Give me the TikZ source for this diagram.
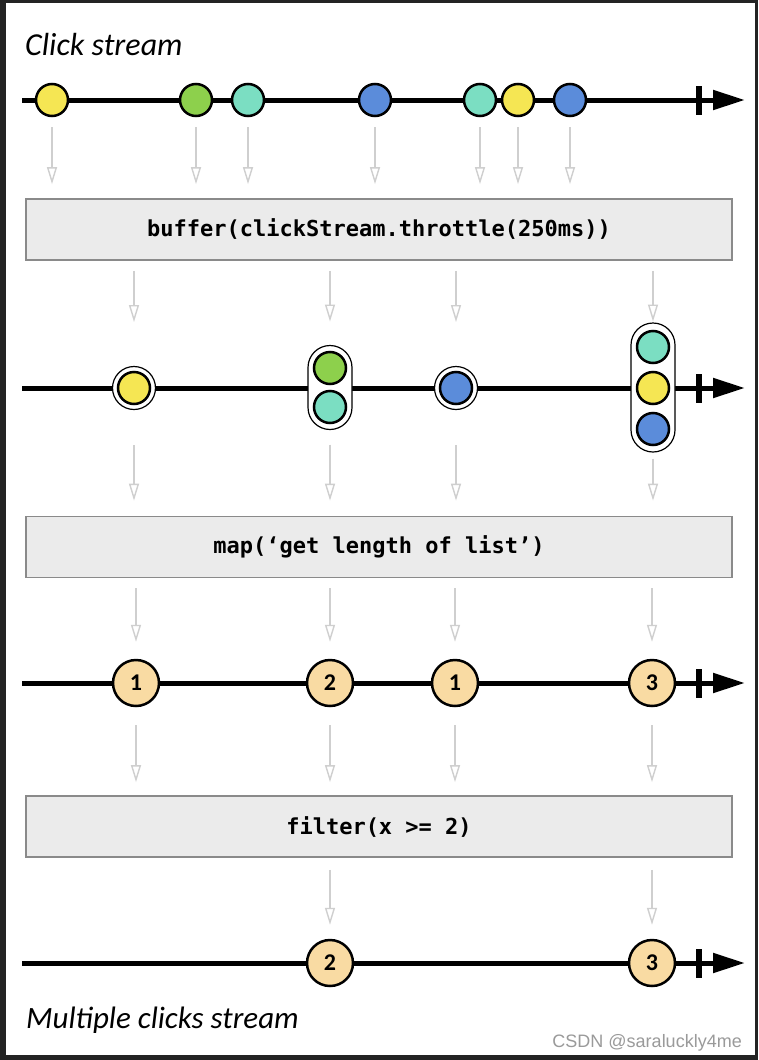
\documentclass[tikz,border=0pt]{standalone}
\usepackage{fontspec}
\setmonofont{DejaVu Sans Mono}
\newfontfamily\labelfont{Carlito}
\newfontfamily\markfont{Liberation Sans}
\usetikzlibrary{arrows.meta, positioning}

\definecolor{framedark}{HTML}{232323}
\definecolor{myyellow}{HTML}{F5E653}
\definecolor{mygreen}{HTML}{8DD04C}
\definecolor{myteal}{HTML}{7BDEC2}
\definecolor{myblue}{HTML}{5B8CDA}
\definecolor{countfill}{HTML}{F9DBA3}
\definecolor{boxfill}{HTML}{EBEBEB}
\definecolor{boxline}{HTML}{8A8A8A}
\definecolor{flowgray}{HTML}{CFCFCF}
\definecolor{markgray}{HTML}{9A9A9A}

\begin{document}
\begin{tikzpicture}[x=1pt, y=-1pt]
    % Setup the styles
        \tikzset{timeline/.style={line width=5pt,
                                  -{Triangle[length=32pt, width=19pt]}},
                 tickmark/.style={rectangle, fill=black, inner sep=0pt,
                                  minimum width=6pt, minimum height=29pt},
                 marble/.style={circle, draw=black, line width=2.5pt,
                                inner sep=0pt, minimum size=32pt},
                 ring/.style={circle, draw=black, line width=1.2pt,
                              fill=white, inner sep=0pt, minimum size=43pt},
                 pill/.style={rectangle, draw=black, line width=1.2pt,
                              fill=white, rounded corners=22pt,
                              minimum width=44pt},
                 count/.style={circle, draw=black, line width=2.5pt,
                               fill=countfill, inner sep=0pt,
                               minimum size=46pt,
                               font=\labelfont\bfseries\fontsize{24pt}{28pt}\selectfont},
                 opbox/.style={rectangle, draw=boxline, fill=boxfill,
                               line width=1.8pt, minimum width=706pt,
                               minimum height=61pt,
                               font=\ttfamily\bfseries\fontsize{22pt}{26pt}\selectfont},
                 flow/.style={draw=flowgray, line width=1.4pt,
                              -{Triangle[open, length=17pt, width=10pt]}},
                 title/.style={anchor=base west, inner sep=0pt,
                               font=\labelfont\itshape\fontsize{32pt}{36pt}\selectfont}}
        % Frame and page
        \fill[framedark] (0,0) rectangle (758,1060);
        \fill[white] (6,3) rectangle (755,1055);
        % Titles
        \node[title] (clicktitle) at (25,55) {Click stream};
        \node[title, font=\labelfont\itshape\fontsize{31pt}{36pt}\selectfont]
            (multititle) at (26,1028) {Multiple clicks stream};
        \node[anchor=base east, inner sep=0pt, text=markgray,
              font=\markfont\fontsize{18pt}{20pt}\selectfont]
            (mark) at (742,1047) {CSDN @saraluckly4me};
        % Draw the timelines
        \foreach \y [count=\i] in {100, 388, 683, 963} {
            \coordinate (s\i) at (22,\y);
            \coordinate (e\i) at (745,\y);
            \draw[timeline] (s\i) -- (e\i);
            \node[tickmark] (t\i) at (699,\y) {};
        }
        % Click stream
        \foreach \x/\c [count=\i] in {52/myyellow, 196/mygreen, 248/myteal,
                                      375/myblue, 480/myteal, 518/myyellow,
                                      570/myblue}
            \node[marble, fill=\c] (m\i) at (\x,100) {};
        % Operators
        \node[opbox] (buf) at (379,229.5) {buffer(clickStream.throttle(250ms))};
        \node[opbox] (map) at (379,547) {map(‘get length of list’)};
        \node[opbox] (filt) at (379,826.5) {filter(x >= 2)};
        % Buffered stream
        \node[ring] (r1) at (134,388) {};
        \node[marble, fill=myyellow] (r1m) at (r1) {};
        \node[pill, minimum height=84pt] (p1) at (330,387.5) {};
        \node[marble, fill=mygreen] (p1a) at (330,368) {};
        \node[marble, fill=myteal] (p1b) at (330,407) {};
        \node[ring] (r2) at (456,388) {};
        \node[marble, fill=myblue] (r2m) at (r2) {};
        \node[pill, minimum height=129pt] (p2) at (653,387.5) {};
        \node[marble, fill=myteal] (p2a) at (653,347) {};
        \node[marble, fill=myyellow] (p2b) at (653,388) {};
        \node[marble, fill=myblue] (p2c) at (653,429) {};
        % Counts
        \foreach \x/\n [count=\i] in {136/1, 330/2, 455/1, 652/3}
            \node[count] (n\i) at (\x,683) {\n};
        \node[count] (o1) at (330,963) {2};
        \node[count] (o2) at (652,963) {3};
        % Connect with flow arrows
        \foreach \i in {1,...,7}
            \draw[flow, shorten <=10pt, shorten >=14pt] (m\i) -- (m\i |- buf.north);
        \foreach \n in {r1, p1, r2, p2}
            \draw[flow, shorten <=10pt] (buf.south -| \n) -- ([yshift=66pt]\n.center);
        \foreach \n in {r1, p1, r2}
            \draw[flow, shorten >=15pt] ([yshift=-57pt]\n.center) -- (\n |- map.north);
        \draw[flow, shorten <=6pt, shorten >=15pt] (p2.south) -- (p2 |- map.north);
        \foreach \i in {1,...,4}
            \draw[flow, shorten <=10pt, shorten >=17pt] (map.south -| n\i) -- (n\i);
        \foreach \i in {1,...,4}
            \draw[flow, shorten <=18pt, shorten >=13pt] (n\i) -- (n\i |- filt.north);
        \foreach \i in {1,2}
            \draw[flow, shorten <=12pt, shorten >=14pt] (filt.south -| o\i) -- (o\i);
\end{tikzpicture}
\end{document}
